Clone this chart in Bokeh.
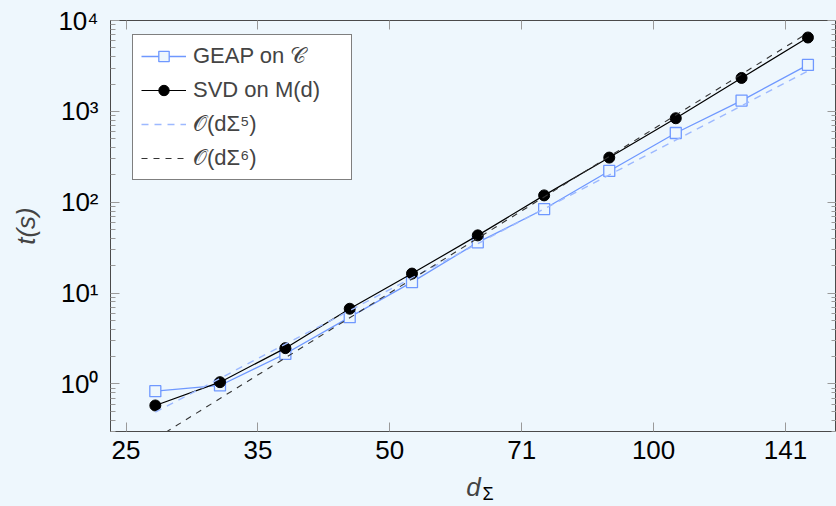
from bokeh.plotting import figure
from bokeh.models import LogAxis, FixedTicker, Range1d, Legend, LegendItem, Title
from bokeh.embed import file_html
from bokeh.resources import INLINE

# ---- data ----
d_sigma = [27, 32, 38, 45, 53, 63, 75, 89, 106, 126, 150]
t_geap = [0.833, 0.963, 2.15, 5.44, 13.2, 36.2, 84.2, 221, 578, 1315, 3243]
t_svd = [0.580, 1.047, 2.48, 6.73, 16.4, 43.2, 119, 310, 840, 2333, 6500]
ref5_d = [27, 150]
ref5_t = [0.49, 2780]
ref6_d = [27, 150]
ref6_t = [0.25, 7300]

x_ticks = [25, 35.355, 50, 70.711, 100, 141.421]
x_tick_labels = ["25", "35", "50", "71", "100", "141"]
y_ticks = [1, 10, 100, 1000, 10000]
y_tick_labels = ["10\u2070", "10\u00b9", "10\u00b2", "10\u00b3", "10\u2074"]
y_minor = [k * 10.0 ** e for e in range(-1, 4) for k in range(2, 10)]

legend_labels = ["GEAP on \U0001D49E", "SVD on M(d)", "\U0001D4AA(d\u03a3\u2075)", "\U0001D4AA(d\u03a3\u2076)"]

BG = "#EEF7FD"
BLUE = "#6F98FF"
LBLUE = "#9DB9FF"
FONT = "Liberation Sans"
TICK = "#9a9a9a"
AXIS = "#4a4a4a"

p = figure(width=836, height=506, x_axis_type="log", y_axis_type="log",
           x_range=Range1d(24.0, 161.7), y_range=Range1d(0.3, 10000),
           output_backend="svg", toolbar_location=None,
           min_border_left=110, min_border_right=0, min_border_top=20, min_border_bottom=75,
           background_fill_color=BG, border_fill_color=BG, outline_line_color=AXIS)
p.grid.visible = False

xa = p.below[0]
ya = p.left[0]

xt = FixedTicker(ticks=x_ticks, minor_ticks=[])
yt = FixedTicker(ticks=y_ticks, minor_ticks=y_minor)
xa.ticker = xt
ya.ticker = yt
xa.major_label_overrides = {v: s for v, s in zip(x_ticks, x_tick_labels)}
ya.major_label_overrides = {v: s for v, s in zip(y_ticks, y_tick_labels)}

top = LogAxis(ticker=xt)
right = LogAxis(ticker=yt)
p.add_layout(top, "above")
p.add_layout(right, "right")

for ax in [xa, ya, top, right]:
    ax.major_tick_in = 9
    ax.major_tick_out = 0
    ax.minor_tick_in = 5
    ax.minor_tick_out = 0
    ax.major_tick_line_color = TICK
    ax.minor_tick_line_color = TICK
    ax.axis_line_color = AXIS
    ax.major_label_text_font = FONT
    ax.major_label_text_font_size = "26px"
    ax.major_label_text_color = "black"
for ax in [top, right]:
    ax.major_label_text_font_size = "0px"
    ax.major_label_standoff = 0
    ax.major_label_text_color = None

xa.major_label_standoff = 9
ya.major_label_standoff = 12

xa.axis_label = "d"
xa.axis_label_text_font = FONT
xa.axis_label_text_font_style = "italic"
xa.axis_label_text_font_size = "26px"
xa.axis_label_standoff = 10

ya.axis_label = "t(s)"
ya.axis_label_text_font = FONT
ya.axis_label_text_font_style = "italic"
ya.axis_label_text_font_size = "26px"
ya.axis_label_standoff = 14

# subscript of the x-axis label
sub = Title(text="\u03a3", align="left", offset=372, vertical_align="top", standoff=-42,
            text_font=FONT, text_font_size="18px", text_font_style="normal",
            text_color="black")
p.add_layout(sub, "below")

r_gl = p.line(d_sigma, t_geap, line_color=BLUE, line_width=1.3)
r_gs = p.scatter(d_sigma, t_geap, marker="square", size=11, line_color=BLUE,
                 fill_color=BG, line_width=1.3)
r_sl = p.line(d_sigma, t_svd, line_color="black", line_width=1.2)
r_ss = p.scatter(d_sigma, t_svd, marker="circle", size=11, color="black")
r5 = p.line(ref5_d, ref5_t, line_color=LBLUE, line_dash="7 6", line_width=1.4)
r6 = p.line(ref6_d, ref6_t, line_color="#333333", line_dash="6 6", line_width=1.1)

legend = Legend(items=[
    LegendItem(label=legend_labels[0], renderers=[r_gl, r_gs]),
    LegendItem(label=legend_labels[1], renderers=[r_sl, r_ss]),
    LegendItem(label=legend_labels[2], renderers=[r5]),
    LegendItem(label=legend_labels[3], renderers=[r6]),
], location=(22, 251))
legend.label_text_font = FONT
legend.label_text_font_size = "22px"
legend.label_height = 26
legend.label_width = 150
legend.glyph_width = 45
legend.glyph_height = 26
legend.label_standoff = 7
legend.spacing = 8
legend.padding = 8
legend.margin = 0
legend.border_line_color = "black"
legend.border_line_width = 1
legend.background_fill_color = "white"
legend.background_fill_alpha = 1.0
p.add_layout(legend)

html = file_html(p, INLINE)
html = html.replace("</head>", "<style>html,body{background:#EEF7FD;}</style></head>")
open("out.html", "w").write(html)
